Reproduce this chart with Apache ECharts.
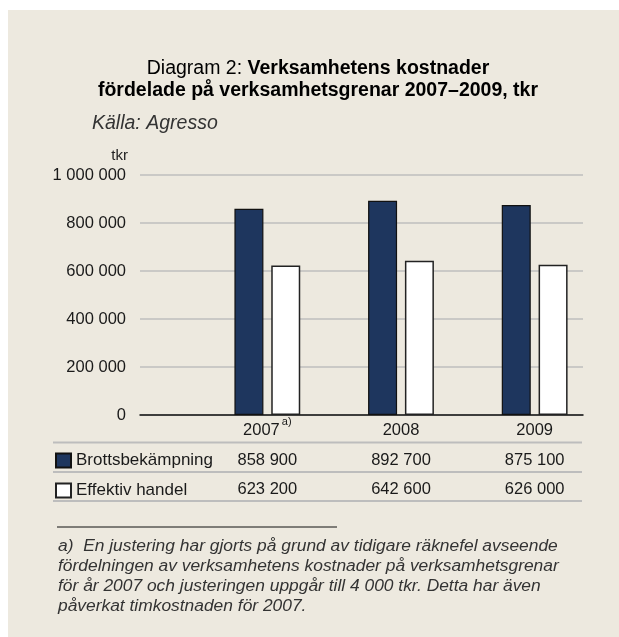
<!DOCTYPE html>
<html>
<head>
<meta charset="utf-8">
<script src="https://cdn.jsdelivr.net/npm/echarts@6/dist/echarts.min.js"></script>
<style>
    html, body { margin: 0; padding: 0; background: #fff; }
    #main { width: 619px; height: 637px; }
</style>
</head>
<body>
<div id="main"></div>
<script>
var years = ['2007', '2008', '2009'];
var yearNotes = ['a)', '', ''];
var seriesNames = ['Brottsbekämpning', 'Effektiv handel'];
var brotts = [858900, 892700, 875100];
var handel = [623200, 642600, 626000];
var yMax = 1000000;
var yStep = 200000;

var footnote = [
    'a)  En justering har gjorts på grund av tidigare räknefel avseende',
    'fördelningen av verksamhetens kostnader på verksamhetsgrenar',
    'för år 2007 och justeringen uppgår till 4 000 tkr. Detta har även',
    'påverkat timkostnaden för 2007.'
];

var font = 'Liberation Sans, Arial, sans-serif';

function spaced(v) {
    return String(v).replace(/\B(?=(\d{3})+(?!\d))/g, ' ');
}

var myChart = echarts.init(document.getElementById('main'));

var option = {
    backgroundColor: '#ffffff',
    textStyle: {fontFamily: font},
    animation: false,
    graphic: [
        {
            type: 'rect', z: -10, silent: true,
            shape: {x: 8, y: 10, width: 611, height: 627},
            style: {fill: '#ede9df'}
        },
        {
            type: 'text', x: 318, y: 58,
            style: {
                text: '{n|Diagram 2: }{b|Verksamhetens kostnader}\n{b|fördelade på verksamhetsgrenar 2007–2009, tkr}',
                align: 'center', verticalAlign: 'top',
                rich: {
                    n: {fontSize: 19.5, fontFamily: font, color: '#333', lineHeight: 22},
                    b: {fontSize: 19.5, fontFamily: font, fontWeight: 'bold', color: '#333', lineHeight: 22}
                }
            }
        },
        {
            type: 'text', x: 92, y: 124,
            style: {
                text: 'Källa: Agresso', fontSize: 19.5, fontStyle: 'italic', fontFamily: font,
                fill: '#333', verticalAlign: 'middle'
            }
        },
        {
            type: 'text', x: 128, y: 156,
            style: {text: 'tkr', fontSize: 15, fontFamily: font, fill: '#222', align: 'right', verticalAlign: 'middle'}
        },
        {type: 'line', shape: {x1: 53, y1: 442.5, x2: 582, y2: 442.5}, style: {stroke: '#bdbdbd', lineWidth: 2}},
        {type: 'line', shape: {x1: 53, y1: 472, x2: 582, y2: 472}, style: {stroke: '#bdbdbd', lineWidth: 2}},
        {type: 'line', shape: {x1: 53, y1: 501, x2: 582, y2: 501}, style: {stroke: '#bdbdbd', lineWidth: 2}},
        {type: 'line', shape: {x1: 57, y1: 527, x2: 337, y2: 527}, style: {stroke: '#111', lineWidth: 1}},
        {
            type: 'text', x: 58, y: 536.5,
            style: {
                text: footnote.join('\n'), fontSize: 17.4, fontStyle: 'italic', fontFamily: font,
                fill: '#333', lineHeight: 20, verticalAlign: 'top'
            }
        }
    ],
    legend: {
        data: seriesNames,
        orient: 'vertical',
        left: 55,
        top: 452,
        padding: 0,
        itemWidth: 15,
        itemHeight: 14,
        itemGap: 13,
        icon: 'rect',
        textStyle: {fontSize: 17, color: '#1a1a1a', lineHeight: 15, fontFamily: font, padding: [2, 0, 0, 0]}
    },
    grid: [
        {left: 140, right: 36, top: 175, height: 240},
        {left: 200.5, right: 17.5, top: 175, height: 240}
    ],
    xAxis: [
        {
            type: 'category', gridIndex: 0, data: years,
            axisLine: {lineStyle: {color: '#111', width: 1.5}},
            axisTick: {show: false},
            axisLabel: {show: false}
        },
        {
            type: 'category', gridIndex: 1, data: years,
            axisLine: {show: false},
            axisTick: {show: false},
            axisLabel: {
                interval: 0,
                margin: 1,
                formatter: function (value, i) {
                    var top = '{y|' + value + '}' + (yearNotes[i] ? '{s|' + yearNotes[i] + '}' : '');
                    return top + '\n{v|' + spaced(brotts[i]) + '}\n{v|' + spaced(handel[i]) + '}';
                },
                rich: {
                    y: {fontSize: 16.5, color: '#1a1a1a', lineHeight: 29.5, fontFamily: font},
                    s: {fontSize: 11, color: '#1a1a1a', lineHeight: 20, verticalAlign: 'top', fontFamily: font, padding: [0, 0, 0, 2]},
                    v: {fontSize: 16.5, color: '#1a1a1a', lineHeight: 29.5, fontFamily: font}
                }
            }
        }
    ],
    yAxis: [
        {
            type: 'value', gridIndex: 0, min: 0, max: yMax, interval: yStep,
            axisLine: {show: false},
            axisTick: {show: false},
            axisLabel: {
                margin: 14, fontSize: 16.5, color: '#1a1a1a', fontFamily: font,
                formatter: function (v) { return spaced(v); }
            },
            splitLine: {lineStyle: {color: '#bebebe', width: 1.5}}
        },
        {
            type: 'value', gridIndex: 1, min: 0, max: yMax, interval: yStep,
            show: false
        }
    ],
    series: [
        {
            name: seriesNames[0], type: 'bar', xAxisIndex: 1, yAxisIndex: 1,
            data: brotts, barWidth: 29, barGap: '27%',
            itemStyle: {color: '#1e365e', borderColor: '#111', borderWidth: 1.2}
        },
        {
            name: seriesNames[1], type: 'bar', xAxisIndex: 1, yAxisIndex: 1,
            data: handel, barWidth: 29,
            itemStyle: {color: '#ffffff', borderColor: '#222', borderWidth: 1.5}
        }
    ]
};

myChart.setOption(option);
</script>
</body>
</html>
